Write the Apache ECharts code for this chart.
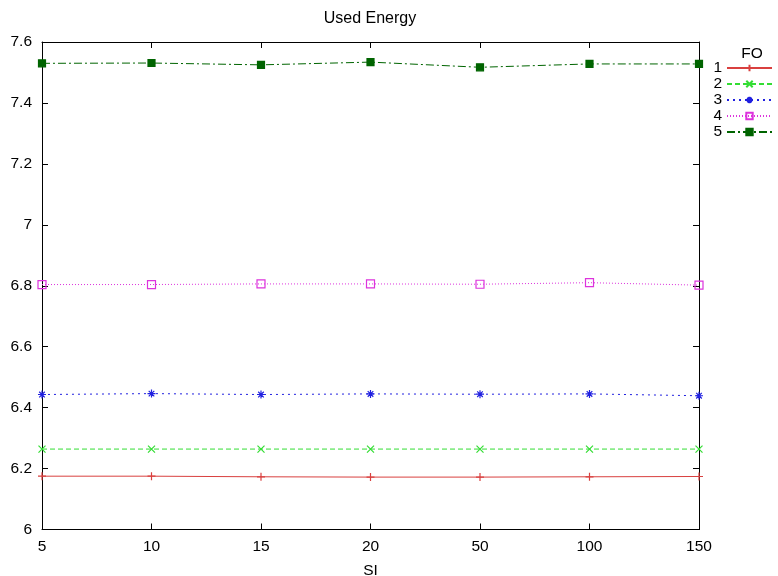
<!DOCTYPE html>
<html>
<head>
<meta charset="utf-8">
<script src="https://cdn.jsdelivr.net/npm/echarts@6/dist/echarts.min.js"></script>
<style>
  html, body { margin: 0; padding: 0; background: #fff; overflow: hidden; }
  #chart { width: 778px; height: 576px; }
</style>
</head>
<body>
<div id="chart"></div>
<script>
// SI values along the x axis
const siValues = ['5', '10', '15', '20', '50', '100', '150'];

// Used energy for each FO setting
const fo1 = [6.175, 6.175, 6.173, 6.172, 6.172, 6.173, 6.174];
const fo2 = [6.264, 6.264, 6.264, 6.264, 6.264, 6.264, 6.264];
const fo3 = [6.443, 6.446, 6.443, 6.445, 6.444, 6.445, 6.439];
const fo4 = [6.804, 6.804, 6.806, 6.806, 6.805, 6.810, 6.802];
const fo5 = [7.530, 7.531, 7.525, 7.534, 7.517, 7.528, 7.528];

const seriesNames = ['1', '2', '3', '4', '5'];
const yTicks = [6, 6.2, 6.4, 6.6, 6.8, 7, 7.2, 7.4, 7.6];

const FONT = 'Liberation Sans';
const LABEL_SIZE = 15.5;

const plusPath = 'path://M5,0 L5,10 M0,5 L10,5';
const crossPath = 'path://M0,0 L10,10 M10,0 L0,10';
const starPath = 'path://M5,0 L5,10 M0,5 L10,5 M1.5,1.5 L8.5,8.5 M8.5,1.5 L1.5,8.5';

function lineSeries(name, data, color, type, symbol, size, fill) {
  return {
    name: name,
    type: 'line',
    data: data,
    symbol: symbol,
    symbolSize: size,
    showAllSymbol: true,
    lineStyle: { color: color, width: 1, type: type },
    itemStyle: { color: fill, borderColor: color, borderWidth: 1.2 },
    emphasis: { disabled: true },
    z: 3
  };
}

const chart = echarts.init(document.getElementById('chart'), null, { renderer: 'canvas', width: 778, height: 576 });

const baseAxisLine = { show: true, lineStyle: { color: '#000', width: 1 } };

chart.setOption({
  animation: false,
  backgroundColor: '#fff',
  textStyle: { fontFamily: FONT },
  title: [
    {
      text: 'Used Energy', left: 365, top: 6, textAlign: 'center',
      textStyle: { fontFamily: FONT, fontSize: 16, fontWeight: 'normal', color: '#000' }
    },
    {
      text: 'FO', left: 747, top: 41, textAlign: 'center',
      textStyle: { fontFamily: FONT, fontSize: LABEL_SIZE, fontWeight: 'normal', color: '#000' }
    }
  ],
  grid: { left: 42, top: 42, width: 657, height: 487.5, containLabel: false, outerBoundsMode: 'none' },
  legend: {
    orient: 'vertical',
    right: 0,
    top: 55,
    align: 'right',
    itemWidth: 45,
    itemHeight: 8,
    itemGap: 0,
    textStyle: { fontFamily: FONT, fontSize: LABEL_SIZE, lineHeight: 16, color: '#000', padding: [0, 0, 0, 0] },
    data: seriesNames
  },
  xAxis: [
    {
      type: 'category', data: siValues, boundaryGap: false,
      name: 'SI', nameLocation: 'middle', nameGap: 33,
      nameTextStyle: { fontFamily: FONT, fontSize: LABEL_SIZE, color: '#000' },
      axisLine: baseAxisLine,
      axisTick: { show: true, inside: true, length: 6, alignWithLabel: true, lineStyle: { color: '#000' } },
      axisLabel: { fontFamily: FONT, fontSize: LABEL_SIZE, color: '#000', margin: 9 },
      splitLine: { show: false }
    },
    {
      type: 'category', data: siValues, boundaryGap: false, position: 'top',
      axisLine: baseAxisLine,
      axisTick: { show: true, inside: true, length: 6, lineStyle: { color: '#000' } },
      axisLabel: { show: false },
      splitLine: { show: false }
    }
  ],
  yAxis: [
    {
      type: 'value', min: 6, max: 7.6, interval: 0.2,
      axisLine: baseAxisLine,
      axisTick: { show: true, inside: true, length: 6, lineStyle: { color: '#000' } },
      axisLabel: {
        fontFamily: FONT, fontSize: LABEL_SIZE, color: '#000', margin: 10,
        formatter: v => {
          const r = Math.round(v * 10) / 10;
          const hit = yTicks.find(t => Math.abs(t - r) < 1e-9);
          return hit === undefined ? '' : String(hit);
        }
      },
      splitLine: { show: false }
    },
    {
      type: 'value', min: 6, max: 7.6, interval: 0.2, position: 'right',
      axisLine: baseAxisLine,
      axisTick: { show: true, inside: true, length: 6, lineStyle: { color: '#000' } },
      axisLabel: { show: false },
      splitLine: { show: false }
    }
  ],
  series: [
    lineSeries('1', fo1, '#d9403f', 'solid', plusPath, 8, 'transparent'),
    lineSeries('2', fo2, '#33dd33', [5, 3], crossPath, 7, 'transparent'),
    lineSeries('3', fo3, '#2020e0', [2, 4], starPath, 8, 'transparent'),
    lineSeries('4', fo4, '#dd33dd', [1, 2], 'rect', 8, 'transparent'),
    lineSeries('5', fo5, '#006400', [8, 3, 2, 3], 'rect', 7, '#006400')
  ]
});
</script>
</body>
</html>
